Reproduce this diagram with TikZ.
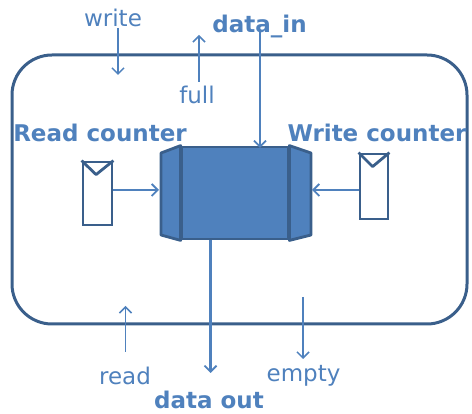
\documentclass[tikz,border=0pt]{standalone}
\usepackage{fontspec}
\setmainfont{DejaVu Sans}
\usetikzlibrary{arrows.meta}
\definecolor{txtblue}{HTML}{4F81BD}
\definecolor{edgeblue}{HTML}{3A5F8B}
\begin{document}
\begin{tikzpicture}[x=1pt,y=-1pt,
  lbl/.style={text=txtblue, font=\fontsize{23}{27}\selectfont, inner sep=0pt, anchor=base},
  blbl/.style={lbl, font=\fontsize{23}{27}\selectfont\bfseries},
  sig/.style={draw=txtblue, line width=1.2pt, -{Straight Barb[length=6pt,width=12pt,line width=1.5pt]}},
  bus/.style={draw=txtblue, line width=2.2pt, -{Straight Barb[length=6pt,width=12pt,line width=1.8pt]}},
  cnt/.style={draw=edgeblue, line width=2.8pt, fill=white, inner sep=0pt},
  part/.style={draw=edgeblue, fill=txtblue, line width=2.8pt, line join=round}]
\useasboundingbox (0,0) rectangle (472,414);
% frame
\node[draw=edgeblue, line width=3pt, rounded corners=40pt, minimum width=455pt, minimum height=269pt, inner sep=0pt] (frame) at (239.5,189.5) {};
% counters
\node[cnt, minimum width=29pt, minimum height=63pt] (rc) at (97.5,193.5) {};
\draw[edgeblue, line width=2.8pt, line join=round] (rc.north west) -- ++(14.5,14) -- (rc.north east);
\node[cnt, minimum width=28pt, minimum height=65pt] (wc) at (374,186.5) {};
\draw[edgeblue, line width=2.8pt, line join=round] (wc.north west) -- ++(14,14) -- (wc.north east);
% fifo
\node[part, minimum width=106pt, minimum height=92pt, inner sep=0pt] (fifo) at (235,193) {};
\draw[part] (fifo.north west) -- (161,153) -- (161,235) -- (fifo.south west) -- cycle;
\draw[part] (fifo.north east) -- (311,153) -- (311,235) -- (fifo.south east) -- cycle;
% coordinates
\coordinate (rcin) at (159,190);
\coordinate (wcin) at (312,190);
\coordinate (rcout) at (rc.east |- rcin);
\coordinate (wcout) at (wc.west |- wcin);
\coordinate (wa) at (118,28);  \coordinate (wb) at (118,75);
\coordinate (fa) at (199,82);  \coordinate (fb) at (199,35);
\coordinate (dia) at (260,32); \coordinate (dib) at (260,148);
\coordinate (doa) at (210.5,240); \coordinate (dob) at (210.5,373);
\coordinate (ra) at (125.5,352); \coordinate (rb) at (125.5,306);
\coordinate (ea) at (303,297); \coordinate (eb) at (303,359);
% connectors
\draw[bus] (rcout) -- (rcin);
\draw[bus] (wcout) -- (wcin);
\draw[sig] (wa) -- (wb);
\draw[sig] (fa) -- (fb);
\draw[bus] (dia) -- (dib);
\draw[bus] (doa) -- (dob);
\draw[sig] (ra) -- (rb);
\draw[sig] (ea) -- (eb);
% labels
\node[lbl] (write) at (113,27) {write};
\node[lbl] (full) at (197,104) {full};
\node[blbl] (din) at (259.5,33) {data\_in};
\node[blbl] (rcl) at (100,142) {Read counter};
\node[blbl] (wcl) at (377,142) {Write counter};
\node[lbl] (read) at (125,385) {read};
\node[lbl] (empty) at (303.5,382) {empty};
\node[blbl] (dout) at (209,409) {data out};
\end{tikzpicture}
\end{document}
